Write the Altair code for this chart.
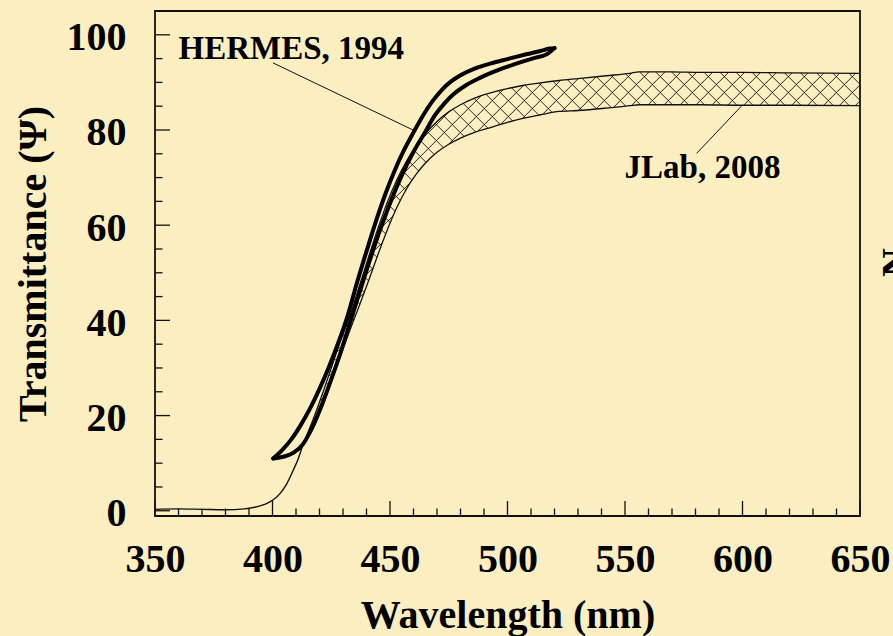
import altair as alt
import pandas as pd
import numpy as np

# ---------------- data ----------------
# thin curve (low wavelength tail)
thin_nm = [350, 360, 370, 380, 388, 393, 397, 400, 403, 406, 409, 411, 413]
thin_T = [0.3, 0.4, 0.3, 0.2, 0.4, 0.8, 1.4, 2.2, 3.5, 5.6, 8.7, 11.0, 14.0]

# HERMES, 1994 : thick closed loop, outer (upper-left) and inner branch
hermes_outer_nm = [400.3, 404, 408, 412, 416, 420, 424, 428, 432, 436, 440, 444, 448, 452,
                   456, 460, 464, 468, 472, 476, 480, 486, 493, 500, 508, 514, 518, 520]
hermes_outer_T = [11.0, 12.7, 15.0, 18.0, 21.5, 25.6, 30.2, 35.3, 41.0, 48.0, 54.5, 60.8,
                  66.5, 71.5, 75.8, 79.5, 83.0, 86.0, 88.4, 90.2, 91.5, 92.9, 94.0, 94.9,
                  95.9, 96.6, 97.1, 97.2]
hermes_inner_nm = [400.3, 405, 409, 413, 417, 421, 425, 429, 433, 437, 441, 445, 449, 453,
                   457, 461, 465, 469, 473, 477, 482, 488, 494, 500, 506, 512, 517, 520]
hermes_inner_T = [11.0, 11.4, 12.2, 14.0, 17.6, 22.3, 27.6, 33.3, 39.5, 45.8, 52.0, 57.9,
                  63.3, 68.2, 72.5, 76.3, 79.6, 83.0, 85.5, 87.5, 89.3, 90.9, 92.2, 93.3,
                  94.3, 95.2, 96.0, 97.2]

# JLab, 2008 : cross-hatched band
band_nm = [413, 417, 421, 425, 429, 433, 437, 441, 445, 449, 453, 457, 461, 465, 470, 475,
           480, 486, 492, 500, 507, 514, 522, 530, 542, 552, 556, 570, 582, 600, 620, 650]
band_top = [14.0, 18.8, 24.2, 30.0, 35.8, 41.0, 47.3, 53.5, 59.5, 65.0, 69.6, 73.4, 76.6,
            79.2, 81.8, 83.8, 85.3, 86.7, 87.7, 88.7, 89.4, 89.9, 90.4, 90.8, 91.4, 91.9,
            92.2, 92.2, 92.1, 92.1, 92.0, 91.9]
band_bot = [14.0, 17.0, 21.5, 27.0, 32.6, 38.0, 43.2, 48.5, 54.0, 59.2, 63.8, 67.6, 70.6,
            73.0, 75.3, 77.0, 78.3, 79.5, 80.4, 81.6, 82.5, 83.2, 83.9, 84.1, 84.6, 85.1,
            85.3, 85.3, 85.3, 85.2, 85.2, 85.1]

# axis ticks
x_major_ticks = [350, 400, 450, 500, 550, 600, 650]
x_minor_ticks = [v for v in range(360, 650, 10) if v % 50 != 0]
y_major_ticks = [0, 20, 40, 60, 80, 100]
y_minor_ticks = [v for v in range(5, 100, 5) if v % 20 != 0]

# annotations
label_text = ["HERMES, 1994", "JLab, 2008"]
label_nm = [360.0, 549.8]
label_T = [94.85, 69.9]
leader_nm = [400.2, 580.5]
leader_T = [94.1, 75.1]
leader_nm2 = [459.8, 599.7]
leader_T2 = [80.0, 85.1]

# ---------------- layout ----------------
W, H = 705, 505
X_DOM = [350, 650]
Y_DOM = [-1.1, 105]
BG = "#FBEEC1"
INK = "#111111"
FONT = "Liberation Serif"

xs = alt.Scale(domain=X_DOM, nice=False, zero=False)
ys = alt.Scale(domain=Y_DOM, nice=False, zero=False)

x_axis = alt.Axis(values=x_major_ticks, format="d", ticks=False, domain=False, grid=False,
                  labelBaseline="alphabetic", labelPadding=55, labelFlush=False,
                  title="Wavelength (nm)", titleBaseline="alphabetic", titleY=111,
                  titleX=W / 2)
y_axis = alt.Axis(values=y_major_ticks, format="d", ticks=False, domain=False, grid=False,
                  labelBaseline="alphabetic", labelOffset=15, labelPadding=29,
                  labelFlush=False, title="Transmittance (Ψ)", titleAngle=270,
                  titleBaseline="alphabetic", titleX=-110, titleY=H / 2)


def X(field):
    return alt.X(field, scale=xs, axis=x_axis)


def Y(field):
    return alt.Y(field, scale=ys, axis=y_axis)


# ---------------- hatch segments (45 degree in screen space) ----------------
px_nm = W / (X_DOM[1] - X_DOM[0])
px_T = H / (Y_DOM[1] - Y_DOM[0])
slope = px_nm / px_T
period_nm = 16.0 / px_nm
dc = slope * period_nm
fine = np.arange(band_nm[0], band_nm[-1] + 1e-9, 0.02)
top_f = np.interp(fine, band_nm, band_top)
bot_f = np.interp(fine, band_nm, band_bot)
segs = []
for sgn in (1, -1):
    cmin = np.min(bot_f - sgn * slope * fine)
    cmax = np.max(top_f - sgn * slope * fine)
    for c in np.arange(cmin + dc * 0.3, cmax, dc):
        tl = sgn * slope * fine + c
        inside = (tl <= top_f) & (tl >= bot_f)
        if not inside.any():
            continue
        d = np.diff(np.concatenate([[0], inside.astype(int), [0]]))
        starts = np.where(d == 1)[0]
        ends = np.where(d == -1)[0] - 1
        for i0, i1 in zip(starts, ends):
            if i1 > i0:
                segs.append({"x": fine[i0], "y": tl[i0], "x2": fine[i1], "y2": tl[i1]})
hatch_df = pd.DataFrame(segs)

thin_df = pd.DataFrame({"nm": thin_nm, "T": thin_T})
herm_df = pd.concat([
    pd.DataFrame({"nm": hermes_outer_nm, "T": hermes_outer_T, "branch": "outer"}),
    pd.DataFrame({"nm": hermes_inner_nm, "T": hermes_inner_T, "branch": "inner"}),
])
edge_df = pd.concat([
    pd.DataFrame({"nm": band_nm, "T": band_top, "edge": "top"}),
    pd.DataFrame({"nm": band_nm, "T": band_bot, "edge": "bot"}),
])
lab_df = pd.DataFrame({"text": label_text, "nm": label_nm, "T": label_T})
lead_df = pd.DataFrame({"nm": leader_nm, "T": leader_T, "nm2": leader_nm2, "T2": leader_T2})

hatch = alt.Chart(hatch_df).mark_rule(color=INK, strokeWidth=0.9).encode(
    x=X("x:Q"), y=Y("y:Q"), x2="x2:Q", y2="y2:Q")

edges = alt.Chart(edge_df).mark_line(color=INK, strokeWidth=1.3, interpolate="monotone").encode(
    x=X("nm:Q"), y=Y("T:Q"), detail="edge:N")

thin = alt.Chart(thin_df).mark_line(color=INK, strokeWidth=1.4, interpolate="monotone").encode(
    x=X("nm:Q"), y=Y("T:Q"))

herm = alt.Chart(herm_df).mark_line(color="black", strokeWidth=4, interpolate="monotone",
                                    strokeCap="round", strokeJoin="round").encode(
    x=X("nm:Q"), y=Y("T:Q"), detail="branch:N")

leaders = alt.Chart(lead_df).mark_rule(color=INK, strokeWidth=1).encode(
    x=X("nm:Q"), y=Y("T:Q"), x2="nm2:Q", y2="T2:Q")

labels = alt.Chart(lab_df).mark_text(font=FONT, fontWeight="bold", fontSize=33, align="left",
                                     baseline="alphabetic", color="black").encode(
    x=X("nm:Q"), y=Y("T:Q"), text="text:N")

xmaj = alt.Chart(pd.DataFrame({"nm": x_major_ticks})).mark_rule(color=INK, strokeWidth=1.3).encode(
    x=X("nm:Q"), y=alt.value(H), y2=alt.value(H - 15))
xmin = alt.Chart(pd.DataFrame({"nm": x_minor_ticks})).mark_rule(color=INK, strokeWidth=1.3).encode(
    x=X("nm:Q"), y=alt.value(H), y2=alt.value(H - 7.5))
ymaj = alt.Chart(pd.DataFrame({"T": y_major_ticks})).mark_rule(color=INK, strokeWidth=1.3).encode(
    y=Y("T:Q"), x=alt.value(0), x2=alt.value(15))
ymin = alt.Chart(pd.DataFrame({"T": y_minor_ticks})).mark_rule(color=INK, strokeWidth=1.3).encode(
    y=Y("T:Q"), x=alt.value(0), x2=alt.value(7.5))

side = alt.Chart(pd.DataFrame({"t": ["N"]})).mark_text(
    font=FONT, fontWeight="bold", fontSize=40, angle=270, align="center",
    baseline="alphabetic", color="black").encode(
    text="t:N", x=alt.value(W + 49), y=alt.value(H / 2 - 1))

chart = alt.layer(thin, hatch, edges, herm, leaders, labels, xmaj, xmin, ymaj, ymin, side).properties(
    width=W, height=H,
    background=BG,
    padding={"left": 155, "top": 11, "right": 33, "bottom": 120},
    autosize=alt.AutoSizeParams(type="none"),
).configure_view(
    stroke=INK, strokeWidth=1.8
).configure_axis(
    labelFont=FONT, labelFontWeight="bold", labelFontSize=40, labelColor="black",
    titleFont=FONT, titleFontWeight="bold", titleFontSize=40, titleColor="black",
)

chart.save("out.html", embed_options={"renderer": "svg", "actions": False})
